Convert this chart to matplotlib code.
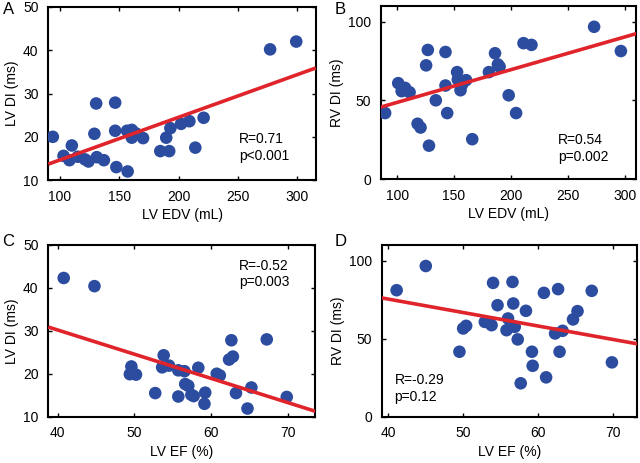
import matplotlib
matplotlib.use("Agg")
import matplotlib.pyplot as plt
import numpy as np

plt.rcParams['font.family'] = ['Liberation Sans', 'DejaVu Sans']

# Panel A: LV EDV vs LV DI
a_x = [94, 103, 110, 108, 115, 121, 124, 131, 137, 129, 130.5, 146.5, 146.5, 147.5, 157,
       156.5, 160.5, 160.5, 164, 170, 184.5, 192, 189.5, 193, 202, 209, 214, 221, 277, 299]
a_y = [20.0, 15.6, 18.0, 14.6, 15.4, 14.8, 14.3, 15.3, 14.6, 20.7, 27.7, 27.9, 21.4, 13.0, 12.0,
       21.4, 21.6, 19.8, 20.8, 19.7, 16.7, 16.7, 19.8, 22.0, 23.0, 23.6, 17.5, 24.4, 40.2, 42.0]

# Panel B: LV EDV vs RV DI
b_x = [89.5, 101, 104, 107, 111, 118, 120.6, 125.5, 127, 128, 134, 142.5, 142.5, 144, 152.7,
       153.3, 155.7, 157, 160.6, 166, 180.6, 186, 188.5, 190, 198, 204.5, 211, 218, 273, 296.5]
b_y = [42, 61, 55.9, 58, 55.2, 35.2, 32.8, 72.3, 82.1, 21.3, 50.1, 80.8, 59.5, 42, 68,
       63.3, 56.5, 60.1, 62.9, 25.4, 68, 80, 72.9, 71.5, 53.3, 42, 86.4, 85.3, 96.8, 81.4]

# Panel C: LV EF vs LV DI
c_x = [40.8, 44.8, 49.6, 49.4, 50.2, 52.7, 53.8, 53.6, 54.5, 55.7, 55.7, 56.5, 56.6, 57.0, 57.4,
       57.7, 58.3, 59.2, 59.1, 60.7, 61.1, 62.3, 62.8, 62.6, 63.2, 64.7, 65.2, 67.2, 69.8]
c_y = [42.3, 40.4, 21.7, 19.9, 19.8, 15.5, 24.3, 21.5, 21.9, 14.7, 20.8, 20.6, 17.6, 17.2, 15.1,
       14.8, 21.4, 15.6, 13.0, 20.0, 19.6, 23.3, 24.0, 27.8, 15.5, 11.9, 16.8, 28.0, 14.6]

# Panel D: LV EF vs RV DI
d_x = [41.1, 45.0, 49.5, 50.0, 50.4, 52.9, 53.8, 54.0, 54.6, 56.0, 55.8, 56.6, 56.7, 57.3, 56.9,
       58.4, 59.2, 59.3, 57.7, 60.8, 62.7, 61.1, 62.3, 63.3, 62.9, 64.7, 65.3, 67.2, 69.9]
d_y = [81, 96.5, 41.6, 56.5, 58.2, 60.7, 58.6, 85.7, 71.4, 62.9, 55.4, 86.3, 72.5, 49.5, 57.5,
       67.8, 41.6, 32.6, 21.4, 79.3, 81.7, 25.2, 53.3, 55, 41.6, 62.3, 67.6, 80.6, 34.8]

# Regression lines (intercept, slope)
fits = [(4.8, 0.0986), (27.97, 0.208), (52.8, -0.565), (109.7, -0.860)]
stats = ["R=0.71\np<0.001", "R=0.54\np=0.002", "R=-0.52\np=0.003", "R=-0.29\np=0.12"]
letters = ["A", "B", "C", "D"]
xlabels = ["LV EDV (mL)", "LV EDV (mL)", "LV EF (%)", "LV EF (%)"]
ylabels = ["LV DI (ms)", "RV DI (ms)", "LV DI (ms)", "RV DI (ms)"]

fig = plt.figure(figsize=(6.4, 4.63), dpi=100)
rects = [[0.0755, 0.611, 0.418, 0.374],
         [0.595, 0.613, 0.3995, 0.374],
         [0.0755, 0.100, 0.417, 0.371],
         [0.5964, 0.100, 0.3994, 0.371]]
xlims = [(90.2, 315.5), (85.7, 310.2), (38.8, 73.5), (39.1, 73.3)]
ylims = [(10, 50), (0, 110), (10, 50), (0, 110)]
xticks = [[100, 150, 200, 250, 300], [100, 150, 200, 250, 300], [40, 50, 60, 70], [40, 50, 60, 70]]
yticks = [[10, 20, 30, 40, 50], [0, 50, 100], [10, 20, 30, 40, 50], [0, 50, 100]]
txtpos = [(251, 21.0), (241.4, 29.2), (63.6, 46.8), (40.8, 28.1)]
letterpos = [(3, 2), (335, 2), (2, 234), (335, 234)]
data = [(a_x, a_y), (b_x, b_y), (c_x, c_y), (d_x, d_y)]

blue = "#2b4c9f"
red = "#e0242b"

for i in range(4):
    ax = fig.add_axes(rects[i])
    x, y = data[i]
    ax.scatter(x, y, s=82, color=blue, edgecolors='none', zorder=3)
    xx = np.array(xlims[i])
    b0, b1 = fits[i]
    ax.plot(xx, b0 + b1 * xx, color=red, lw=2.6, zorder=4, solid_capstyle='butt')
    ax.set_xlim(*xlims[i])
    ax.set_ylim(*ylims[i])
    ax.set_xticks(xticks[i])
    ax.set_yticks(yticks[i])
    ax.tick_params(direction='in', top=True, right=True, length=3, width=1,
                   labelsize=10)
    ax.tick_params(axis='x', pad=7)
    ax.tick_params(axis='y', pad=7)
    for s in ax.spines.values():
        s.set_linewidth(1.5)
    ax.set_xlabel(xlabels[i], fontsize=10, labelpad=3)
    ax.set_ylabel(ylabels[i], fontsize=10, labelpad=3)
    ax.text(txtpos[i][0], txtpos[i][1], stats[i], fontsize=10, va='top', ha='left',
            linespacing=1.25, zorder=5)
    fig.text(letterpos[i][0] / 640, 1 - letterpos[i][1] / 463, letters[i], fontsize=12,
             va='top', ha='left')

fig.savefig("out.png", dpi=100)
